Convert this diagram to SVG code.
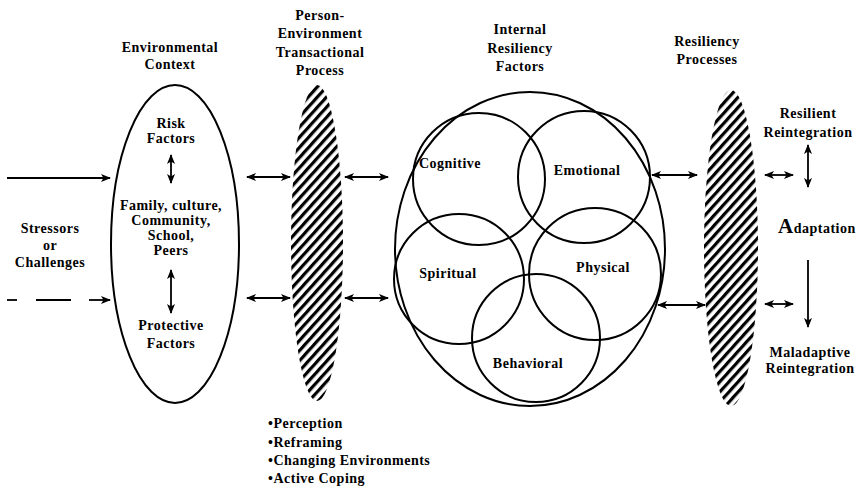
<svg xmlns="http://www.w3.org/2000/svg" width="856" height="487" viewBox="0 0 856 487">
<style>
text{font-family:"Liberation Serif","Times New Roman",serif;font-weight:bold;font-size:14px;letter-spacing:0.5px;fill:#000;text-anchor:middle}
text.l{text-anchor:start}
.ol{fill:none;stroke:#000;stroke-width:2}
.ar{fill:none;stroke:#000;stroke-width:1.8}
.arr{marker-end:url(#ah)}
.dbl{marker-start:url(#ahs);marker-end:url(#ah)}
.hatch{fill:url(#hp);stroke:none}
</style>
<defs>
<marker id="ah" markerWidth="10" markerHeight="8" refX="9" refY="4" orient="auto" markerUnits="userSpaceOnUse"><path d="M0,0 L10,4 L0,8 L2.5,4 Z" fill="#000"/></marker>
<marker id="ahs" markerWidth="10" markerHeight="8" refX="1" refY="4" orient="auto" markerUnits="userSpaceOnUse"><path d="M10,0 L0,4 L10,8 L7.5,4 Z" fill="#000"/></marker>
<pattern id="hp" patternUnits="userSpaceOnUse" width="6.8" height="6.8" patternTransform="rotate(42)"><rect x="0" y="0" width="3.2" height="6.8" fill="#000"/></pattern>
</defs>
<rect width="856" height="487" fill="#fff"/>

<g id="stressors">
<text x="50" y="233">Stressors</text>
<text x="50" y="250">or</text>
<text x="50" y="267">Challenges</text>
</g>

<g id="environmental-context">
<text x="170" y="52">Environmental</text>
<text x="170" y="69">Context</text>
<ellipse class="ol" cx="175" cy="244" rx="64" ry="159"/>
<text x="171" y="128">Risk</text>
<text x="171" y="143">Factors</text>
<text x="171" y="210">Family, culture,</text>
<text x="171" y="225">Community,</text>
<text x="171" y="240">School,</text>
<text x="171" y="255">Peers</text>
<text x="171" y="330">Protective</text>
<text x="171" y="348">Factors</text>
</g>

<g id="transactional-process">
<text x="320" y="20">Person-</text>
<text x="320" y="38">Environment</text>
<text x="320" y="57">Transactional</text>
<text x="320" y="75">Process</text>
<ellipse class="hatch" cx="317" cy="243" rx="26" ry="158"/>
<text class="l" x="268" y="428">•Perception</text>
<text class="l" x="268" y="447">•Reframing</text>
<text class="l" x="268" y="465">•Changing Environments</text>
<text class="l" x="268" y="483">•Active Coping</text>
</g>

<g id="internal-resiliency-factors">
<text x="520" y="34">Internal</text>
<text x="520" y="53">Resiliency</text>
<text x="520" y="71">Factors</text>
<ellipse class="ol" cx="530" cy="249" rx="135" ry="157"/>
</g>
<g id="cognitive">
<circle class="ol" cx="479" cy="179" r="66"/>
<text x="450" y="168">Cognitive</text>
</g>
<g id="emotional">
<circle class="ol" cx="584" cy="177" r="66"/>
<text x="587" y="175">Emotional</text>
</g>
<g id="spiritual">
<circle class="ol" cx="459" cy="279" r="65"/>
<text x="448" y="278">Spiritual</text>
</g>
<g id="physical">
<circle class="ol" cx="595" cy="274" r="66"/>
<text x="603" y="272">Physical</text>
</g>
<g id="behavioral">
<circle class="ol" cx="536" cy="338" r="64"/>
<text x="528" y="368">Behavioral</text>
</g>

<g id="resiliency-processes">
<text x="707" y="46">Resiliency</text>
<text x="707" y="64">Processes</text>
<ellipse class="hatch" cx="731" cy="248" rx="27" ry="158"/>
</g>

<g id="resilient-reintegration">
<text x="808" y="118">Resilient</text>
<text x="808" y="137">Reintegration</text>
</g>
<g id="adaptation">
<text class="l" x="778" y="233"><tspan font-size="21">A</tspan>daptation</text>
</g>
<g id="maladaptive-reintegration">
<text x="810" y="357">Maladaptive</text>
<text x="810" y="373">Reintegration</text>
</g>

<g id="connectors">
<line class="ar arr" x1="7" y1="178" x2="110" y2="178"/>
<line class="ar" x1="7" y1="300" x2="17" y2="300"/>
<line class="ar" x1="36" y1="300" x2="71" y2="300"/>
<line class="ar arr" x1="89" y1="300" x2="110" y2="300"/>
<line class="ar dbl" x1="171" y1="155" x2="171" y2="183"/>
<line class="ar dbl" x1="171" y1="270" x2="171" y2="313"/>
<line class="ar dbl" x1="247" y1="177" x2="290" y2="177"/>
<line class="ar dbl" x1="247" y1="298" x2="290" y2="298"/>
<line class="ar dbl" x1="345" y1="177" x2="388" y2="177"/>
<line class="ar dbl" x1="345" y1="298" x2="388" y2="298"/>
<line class="ar dbl" x1="652" y1="175" x2="697" y2="175"/>
<line class="ar dbl" x1="658" y1="305" x2="705" y2="305"/>
<line class="ar dbl" x1="765" y1="175" x2="793" y2="175"/>
<line class="ar dbl" x1="765" y1="304" x2="793" y2="304"/>
<line class="ar dbl" x1="808" y1="145" x2="808" y2="187"/>
<line class="ar arr" x1="808" y1="260" x2="808" y2="327"/>
</g>
</svg>
